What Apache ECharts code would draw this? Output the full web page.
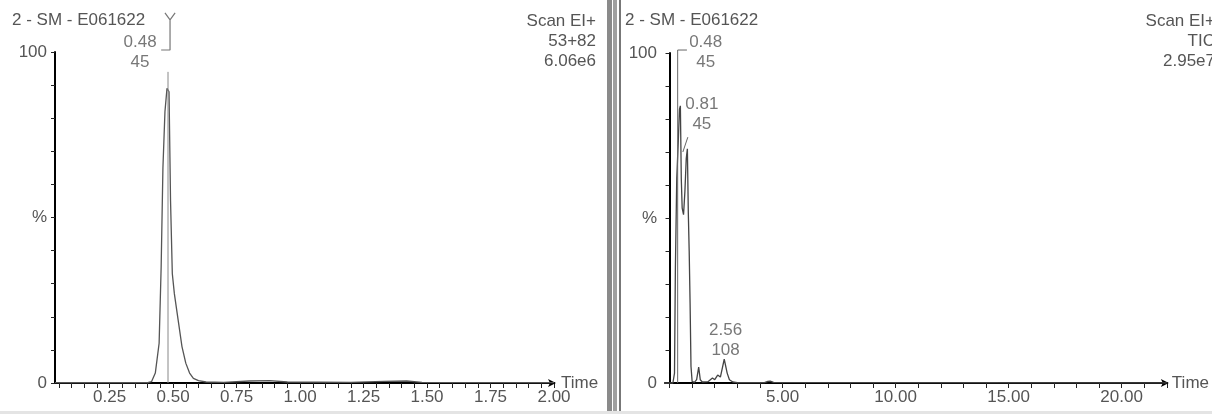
<!DOCTYPE html>
<html><head><meta charset="utf-8">
<script src="https://cdn.jsdelivr.net/npm/echarts@6/dist/echarts.min.js"></script>
<style>html,body{margin:0;padding:0;background:#fff}#c{width:1212px;height:414px}</style>
</head><body><div id="c"></div>
<script>
// ---- Left panel (ion chromatogram 53+82) ----
const leftTime = [0.035,0.40,0.415,0.43,0.445,0.453,0.46,0.468,0.476,0.484,0.49,0.497,0.505,0.52,0.535,0.55,0.565,0.58,0.60,0.63,0.70,0.80,0.88,0.95,1.20,1.33,1.42,1.48,2.00];
const leftPct  = [0.1,0.1,0.4,3,12,35,65,82,89,88,55,33,27,19,11,6,3,1.4,0.7,0.3,0.2,0.6,0.7,0.3,0.2,0.5,0.6,0.2,0.1];
const leftTicks = [0.05,0.10,0.15,0.20,0.25,0.30,0.35,0.40,0.45,0.50,0.55,0.60,0.65,0.70,0.75,0.80,0.85,0.90,0.95,1.00,1.05,1.10,1.15,1.20,1.25,1.30,1.35,1.40,1.45,1.50,1.55,1.60,1.65,1.70,1.75,1.80,1.85,1.90,1.95,2.00];
const leftLabels = [0.25,0.50,0.75,1.00,1.25,1.50,1.75,2.00];
const leftMarkerT = [0.48,0.48];
const leftMarkerP = [0,94];
const leftBracketT = [0.468,0.488,0.508,null,0.488,0.488,0.453];
const leftBracketP = [111.8,109.7,111.8,null,109.7,100.6,100.6];
const leftPeakLabels = [{t:0.37,p:100,text:'0.48\n45'}];
const leftHeader = '2 - SM - E061622';
const leftInfo = ['Scan EI+','53+82','6.06e6'];

// ---- Right panel (TIC) ----
const rightTime = [-0.2,0.15,0.22,0.26,0.32,0.38,0.44,0.48,0.52,0.56,0.62,0.68,0.74,0.79,0.83,0.87,0.91,0.95,1.0,1.1,1.2,1.29,1.36,1.45,1.7,1.9,2.0,2.13,2.25,2.42,2.55,2.65,2.8,3.0,4.2,4.35,4.45,4.6,22];
const rightPct  = [0,0,3,35,62,72,83,84,62,53,51,58,68,71,52,40,24,5,0.5,0.2,1,4.8,1,0.3,0.4,1.5,1,2.4,1.8,7.2,3,1,0.3,0.1,0.1,0.5,0.6,0.2,0.05];
const rightTicks = [0,1,2,3,4,5,6,7,8,9,10,11,12,13,14,15,16,17,18,19,20,21,22];
const rightLabels = [5,10,15,20];
const rightMarkerT = [0.36,0.36,0.77];
const rightMarkerP = [0,100.9,100.9];
const rightLeaderT = [0.59,0.81];
const rightLeaderP = [70,74.5];
const rightPeakLabels = [{t:1.6,p:100.3,text:'0.48\n45'},{t:1.43,p:81.5,text:'0.81\n45'},{t:2.48,p:13,text:'2.56\n108'}];
const rightHeader = '2 - SM - E061622';
const rightInfo = ['Scan EI+','TIC','2.95e7'];

const yTicks = [0,10,20,30,40,50,60,70,80,90,100];
const yLabels = [0,50,100];

const TXT = '#555';
const FS = 17;
const FONT = '"Liberation Sans", Arial, sans-serif';
const zip = (a,b)=>a.map((v,i)=>v===null?[null,null]:[v,b[i]]);

function xAxisDef(grid,min,max,ticks,labels,gap){
  return {type:'value',gridIndex:grid,min:min,max:max,
    axisLine:{show:true,onZero:false,lineStyle:{color:'#000',width:2},symbol:['none','arrow'],symbolSize:[6,8],symbolOffset:[0,2]},
    axisTick:{show:true,customValues:ticks,length:5,lineStyle:{color:'#222',width:1}},
    axisLabel:{customValues:labels,formatter:v=>v.toFixed(2),color:TXT,fontSize:FS,fontFamily:FONT,margin:6,showMinLabel:true,showMaxLabel:true},
    splitLine:{show:false},
    name:'Time',nameLocation:'end',nameGap:gap,nameMoveOverlap:false,nameTextStyle:{color:TXT,fontSize:FS,fontFamily:FONT}};
}
function yAxisDef(grid){
  return {type:'value',gridIndex:grid,min:0,max:100,
    axisLine:{show:true,lineStyle:{color:'#000',width:2}},
    axisTick:{show:true,customValues:yTicks,length:4,lineStyle:{color:'#222'}},
    axisLabel:{customValues:yLabels,formatter:v=>v===50?'%':String(v),color:TXT,fontSize:FS,fontFamily:FONT,margin:8},
    splitLine:{show:false}};
}
function trace(xi,data,color,w){
  return {type:'line',xAxisIndex:xi,yAxisIndex:xi,data:data,showSymbol:false,symbol:'none',
    lineStyle:{color:color,width:w},clip:false,silent:true,animation:false,connectNulls:false};
}
function labels(xi,arr){
  return {type:'scatter',xAxisIndex:xi,yAxisIndex:xi,symbolSize:0,clip:false,animation:false,silent:true,
    data:arr.map(d=>({value:[d.t,d.p],name:d.text})),
    label:{show:true,position:'inside',formatter:p=>p.name,color:TXT,fontSize:FS,fontFamily:FONT,lineHeight:20,align:'center'}};
}
function infoTexts(rightPos,lines){
  return lines.map((s,i)=>({type:'text',right:rightPos,top:13+i*20,style:{text:s,fill:TXT,font:FS+'px '+FONT}}));
}

const chart = echarts.init(document.getElementById('c'),null,{renderer:'canvas'});
chart.setOption({
  backgroundColor:'#fff',
  animation:false,
  grid:[{left:55,top:52,width:499,height:331},{left:665,top:53,width:507,height:330}],
  xAxis:[xAxisDef(0,0.035,2.0,leftTicks,leftLabels,7),xAxisDef(1,-0.2,22,rightTicks,rightLabels,5)],
  yAxis:[yAxisDef(0),yAxisDef(1)],
  series:[
    trace(0,zip(leftTime,leftPct),'#555',1.3),
    trace(0,zip(leftMarkerT,leftMarkerP),'#888',1),
    trace(0,zip(leftBracketT,leftBracketP),'#777',1.2),
    labels(0,leftPeakLabels),
    trace(1,zip(rightTime,rightPct),'#444',1.3),
    trace(1,zip(rightMarkerT,rightMarkerP),'#666',1),
    trace(1,zip(rightLeaderT,rightLeaderP),'#666',1),
    labels(1,rightPeakLabels)
  ],
  graphic:[
    {type:'text',left:12,top:12,style:{text:leftHeader,fill:TXT,font:FS+'px '+FONT}},
    {type:'text',left:625,top:12,style:{text:rightHeader,fill:TXT,font:FS+'px '+FONT}}
  ].concat(infoTexts(616,leftInfo)).concat(infoTexts(-3,rightInfo)).concat([
    {type:'rect',shape:{x:607,y:0,width:5,height:414},style:{fill:'#8a8a8a'}},
    {type:'rect',shape:{x:613,y:0,width:4,height:414},style:{fill:'#a0a0a0'}},
    {type:'rect',shape:{x:619,y:0,width:2,height:414},style:{fill:'#777'}},
    {type:'rect',shape:{x:0,y:411,width:1212,height:3},style:{fill:'#e4e4e4'}}
  ])
});
</script></body></html>
